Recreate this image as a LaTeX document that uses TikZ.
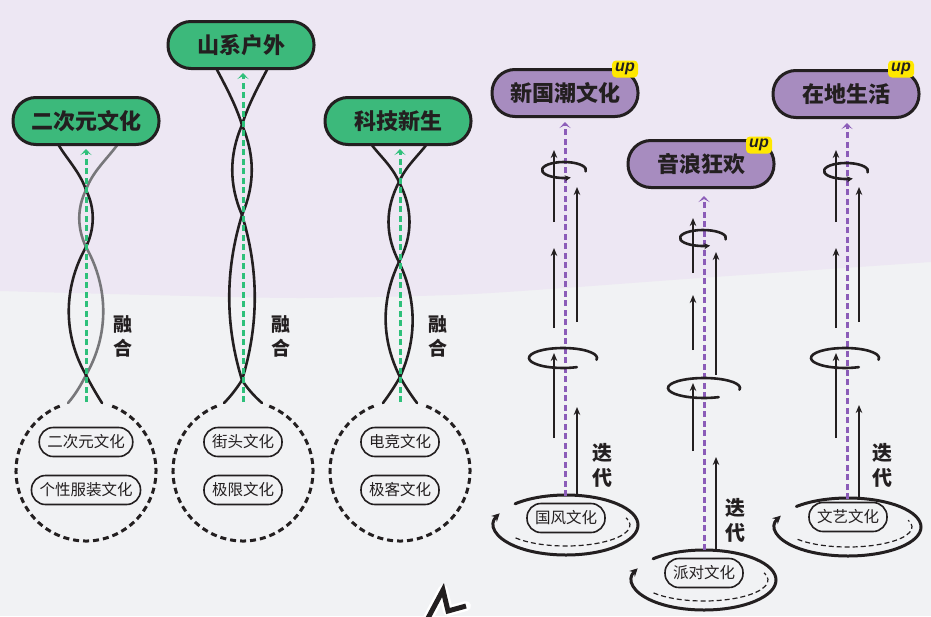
\documentclass[tikz,border=0pt]{standalone}
\usepackage{fontspec}
\newfontfamily\cjk{Noto Sans CJK SC}
\newfontfamily\upfont{Liberation Sans}
\usetikzlibrary{arrows.meta}
\definecolor{ink}{HTML}{231F20}
\definecolor{lav}{HTML}{EDE7F3}
\definecolor{bggray}{HTML}{F1F2F4}
\definecolor{gfill}{HTML}{3CB97B}
\definecolor{gdash}{HTML}{2EC07A}
\definecolor{pfill}{HTML}{A78CBF}
\definecolor{pdash}{HTML}{8B5CB8}
\definecolor{strgrey}{HTML}{77777A}
\definecolor{yel}{HTML}{FFE800}
\tikzset{
  gnode/.style={draw=ink, line width=3pt, fill=gfill, rounded corners=23pt, minimum width=146pt, minimum height=47pt, inner sep=0pt, font=\cjk\bfseries\fontsize{22}{22}\selectfont, text=ink},
  pnode/.style={gnode, fill=pfill},
  pill/.style={draw=ink, line width=1.6pt, rounded corners=14pt, minimum height=29pt, inner xsep=8pt, inner ysep=0pt, font=\cjk\fontsize{15.5}{15.5}\selectfont, text=ink},
  vlabel/.style={font=\cjk\bfseries\fontsize{19}{24}\selectfont, align=center, text=ink, inner sep=0pt},
  badge/.style={fill=yel, rounded corners=4pt, minimum width=26pt, minimum height=17pt, inner sep=0pt, font=\upfont\bfseries\itshape\fontsize{16}{16}\selectfont, text=ink},
  strand/.style={draw=ink, line width=2.6pt, line cap=round},
  greystrand/.style={strand, draw=strgrey},
  dcircle/.style={draw=ink, line width=3pt, dash pattern=on 6pt off 4pt},
  gdasharrow/.style={draw=gdash, line width=3pt, dash pattern=on 6pt off 3.5pt, -{Stealth[length=6pt,width=11pt,inset=3pt]}},
  pdasharrow/.style={draw=pdash, line width=3pt, dash pattern=on 6pt off 3.5pt, -{Stealth[length=6pt,width=11pt,inset=3pt]}},
  barrow/.style={draw=ink, line width=1.8pt, -{Stealth[length=8pt,width=6.5pt]}},
  spin/.style={draw=ink, line width=2.6pt, line cap=round},
  spintip/.style={spin, -{Stealth[length=6pt,width=6pt]}},
  bigspin/.style={draw=ink, line width=3pt, line cap=round, -{Stealth[length=8pt,width=8pt]}},
  innerdash/.style={draw=ink, line width=1.2pt, dash pattern=on 5pt off 3pt},
}
\begin{document}
\begin{tikzpicture}[x=1pt,y=-1pt]
\useasboundingbox (0,0) rectangle (931,616);
% background
\fill[bggray] (0,0) rectangle (931,616);
\fill[lav] plot[smooth] coordinates {(0,291) (150,295) (300,298) (450,295) (550,289) (700,278) (931,262)} -- (931,0) -- (0,0) -- cycle;

% ---------- left: fusion ----------
% helix 1
\draw[greystrand] (118,144) .. controls (108,158) and (92,172) .. (86,190) .. controls (77,208) and (77,228) .. (86,247) .. controls (109,288) and (109,335) .. (86,375) .. controls (81,385) and (75,395) .. (68,403);
\draw[strand] (58,144) .. controls (66,158) and (80,172) .. (86,190) .. controls (95,208) and (95,228) .. (86,247) .. controls (63,288) and (63,335) .. (86,375) .. controls (91,385) and (97,395) .. (102,403);
% helix 2
\draw[strand] (215,66) .. controls (225,85) and (236,105) .. (242,125) .. controls (255,155) and (255,185) .. (242,215) .. controls (225,270) and (225,325) .. (242,380) .. controls (247,388) and (254,396) .. (262,403);
\draw[strand] (269,66) .. controls (259,85) and (248,105) .. (242,125) .. controls (229,155) and (229,185) .. (242,215) .. controls (259,270) and (259,325) .. (242,380) .. controls (237,388) and (231,396) .. (224,403);
% helix 3
\draw[strand] (371,144) .. controls (380,156) and (392,166) .. (399,182) .. controls (413,209) and (413,235) .. (399,262) .. controls (381,300) and (381,339) .. (400,377) .. controls (405,386) and (411,395) .. (417,403);
\draw[strand] (427,144) .. controls (418,156) and (406,166) .. (399,182) .. controls (385,209) and (385,235) .. (399,262) .. controls (417,300) and (417,339) .. (400,377) .. controls (395,386) and (389,395) .. (383,403);

% dashed circles
\coordinate (c1) at (86,471);
\coordinate (c2) at (243,471);
\coordinate (c3) at (400,471);
\draw[dcircle] (c1) ++(292:70) arc[start angle=292,end angle=608,radius=70];
\draw[dcircle] (c2) ++(292:70) arc[start angle=292,end angle=608,radius=70];
\draw[dcircle] (c3) ++(292:70) arc[start angle=292,end angle=608,radius=70];

% nodes
\node[gnode] (ecy) at (86,121) {二次元文化};
\node[gnode] (sxhw) at (241,45) {山系户外};
\node[gnode] (kjxs) at (398,121) {科技新生};

\coordinate (g1) at (86,402);
\coordinate (g2) at (243,402);
\coordinate (g3) at (400,402);
\draw[gdasharrow] (g1) -- (86,149);
\draw[gdasharrow] (g2) -- (243,73);
\draw[gdasharrow] (g3) -- (400,149);

\node[pill] (p11) at (86,442) {二次元文化};
\node[pill] (p12) at (86,490) {个性服装文化};
\node[pill] (p21) at (243,442) {街头文化};
\node[pill] (p22) at (243,490) {极限文化};
\node[pill] (p31) at (400,442) {电竞文化};
\node[pill] (p32) at (400,490) {极客文化};

\node[vlabel] (rh1) at (123,336) {融\\合};
\node[vlabel] (rh2) at (281,336) {融\\合};
\node[vlabel] (rh3) at (438,336) {融\\合};

% ---------- right: iteration ----------
% column 1: 新国潮文化
\draw[bigspin] (566,525) ++(225:72 and 30) arc[start angle=225,end angle=563,x radius=72,y radius=30];
\draw[innerdash] (566,525) ++(142:64 and 21) arc[start angle=142,end angle=-20,x radius=64,y radius=21];
\node[pill] (gf) at (566,518) {国风文化};
\node[pnode] (xgc) at (565,93) {新国潮文化};
\node[badge] (xgcup) at (625,69) {up};
\coordinate (gfb) at (565,496);
\draw[pdasharrow] (gfb) -- (565,122);
\draw[barrow] (554,222) -- (554,150);
\draw[barrow] (554,328) -- (554,248);
\draw[barrow] (554,438) -- (554,353);
\draw[barrow] (577,322) -- (577,187);
\draw[barrow] (577,495) -- (577,407);
\draw[spintip] (564,170) ++(10:22 and 8) arc[start angle=10,end angle=-288,x radius=22,y radius=8];
\draw[spin] (563,358) ++(10:34 and 10) arc[start angle=10,end angle=-294,x radius=34,y radius=10];
\node[vlabel, font=\cjk\bfseries\fontsize{20}{25}\selectfont] (dd1) at (602,465) {迭\\代};

% column 2: 音浪狂欢
\draw[bigspin] (704,580) ++(225:72 and 30) arc[start angle=225,end angle=563,x radius=72,y radius=30];
\draw[innerdash] (704,580) ++(142:64 and 21) arc[start angle=142,end angle=-20,x radius=64,y radius=21];
\node[pill] (pd) at (704,573) {派对文化};
\node[pnode] (ylkh) at (701,164) {音浪狂欢};
\node[badge] (ylkhup) at (759,145) {up};
\coordinate (pdb) at (704,550);
\draw[pdasharrow] (pdb) -- (704,196);
\draw[barrow] (693,273) -- (693,218);
\draw[barrow] (693,350) -- (693,295);
\draw[barrow] (693,451) -- (693,383);
\draw[barrow] (716,375) -- (716,252);
\draw[barrow] (716,550) -- (716,457);
\draw[spintip] (703,238) ++(10:23 and 8) arc[start angle=10,end angle=-288,x radius=23,y radius=8];
\draw[spin] (704,388) ++(10:36 and 10) arc[start angle=10,end angle=-294,x radius=36,y radius=10];
\node[vlabel, font=\cjk\bfseries\fontsize{20}{25}\selectfont] (dd2) at (735,520) {迭\\代};

% column 3: 在地生活
\draw[bigspin] (848,527) ++(225:73 and 29) arc[start angle=225,end angle=563,x radius=73,y radius=29];
\draw[innerdash] (848,527) ++(142:64 and 20) arc[start angle=142,end angle=-20,x radius=64,y radius=20];
\node[pill] (wy) at (848,517) {文艺文化};
\node[pnode] (zdsh) at (846,94) {在地生活};
\node[badge] (zdshup) at (901,69) {up};
\coordinate (wyb) at (847,499);
\draw[pdasharrow] (wyb) -- (847,123);
\draw[barrow] (836,222) -- (836,150);
\draw[barrow] (836,328) -- (836,248);
\draw[barrow] (836,438) -- (836,353);
\draw[barrow] (859,322) -- (859,187);
\draw[barrow] (859,498) -- (859,405);
\draw[spintip] (846,171) ++(10:22 and 8) arc[start angle=10,end angle=-288,x radius=22,y radius=8];
\draw[spin] (845,358) ++(10:34 and 10) arc[start angle=10,end angle=-294,x radius=34,y radius=10];
\node[vlabel, font=\cjk\bfseries\fontsize{20}{25}\selectfont] (dd3) at (882,465) {迭\\代};

% lightning mark at the bottom edge
\draw[white, line width=10pt, line join=round, line cap=round] (427,620) -- (443,590) -- (448,611) -- (466,606);
\draw[ink, line width=5pt, line join=miter] (427,620) -- (443,590) -- (448,611) -- (466,606);
\end{tikzpicture}
\end{document}
